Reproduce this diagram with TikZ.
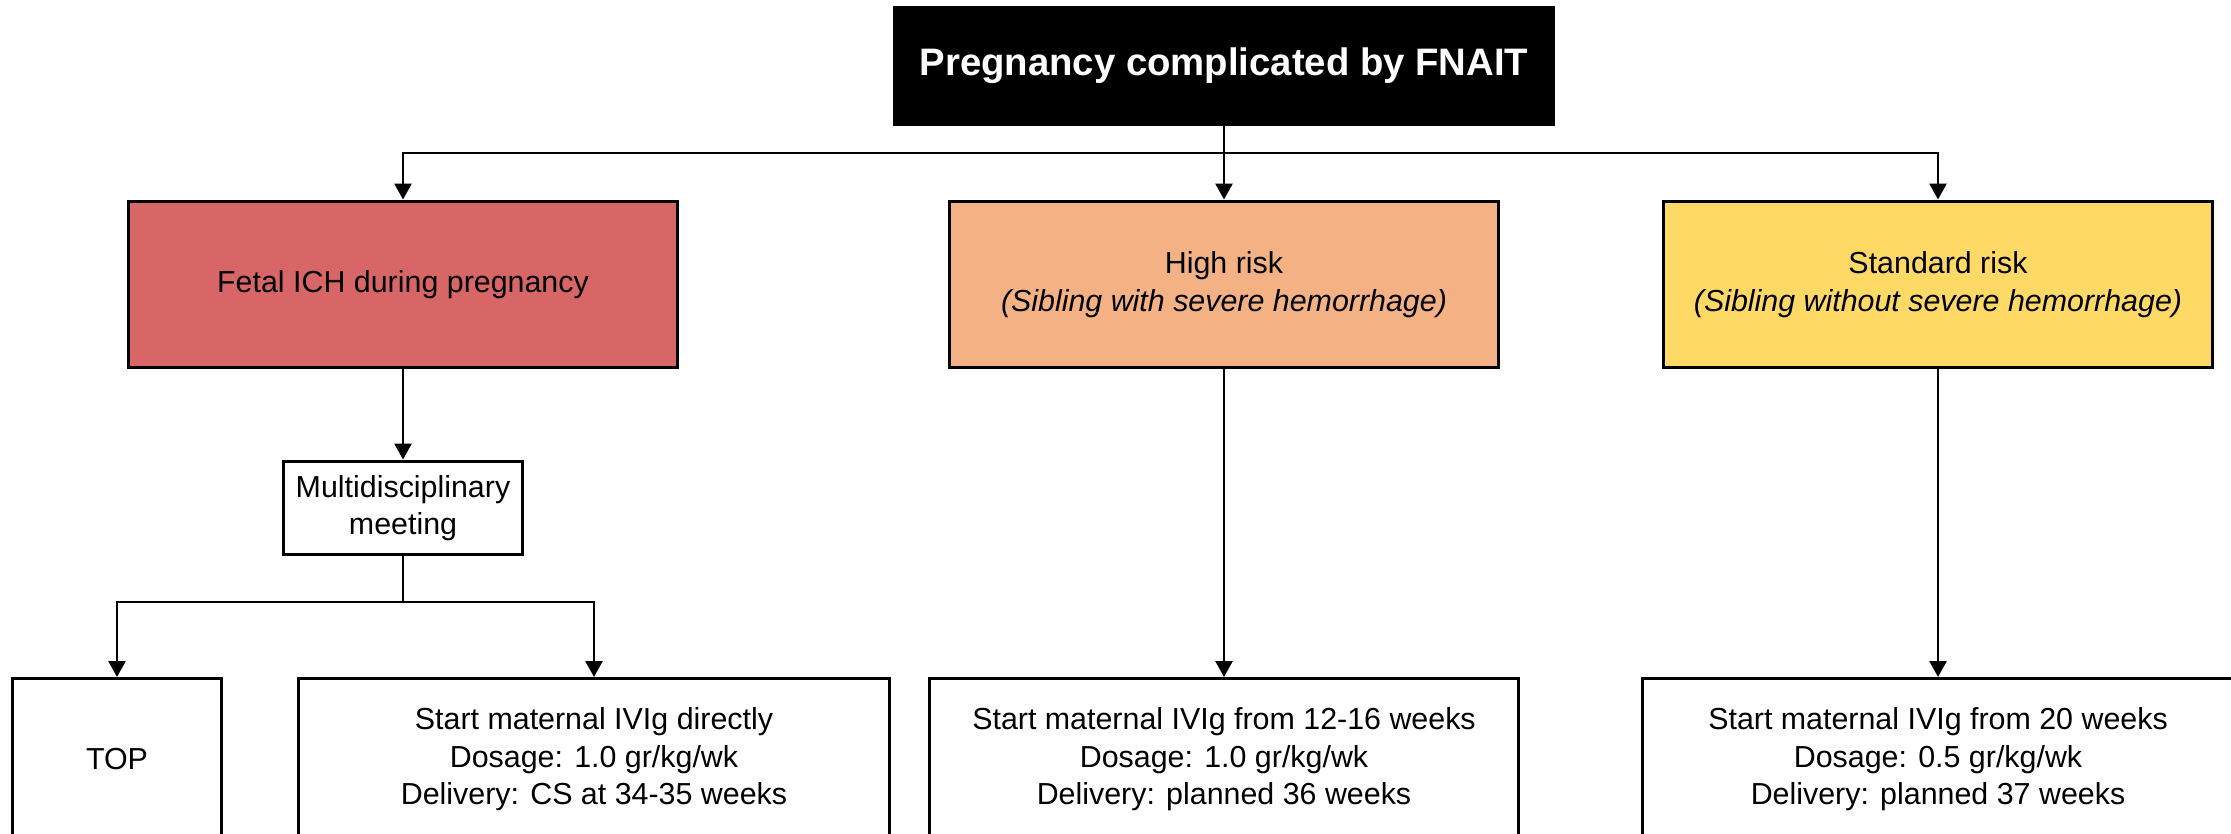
\documentclass[tikz,border=0pt]{standalone}
\usepackage{fontspec}
\setmainfont{Liberation Sans}
\usetikzlibrary{arrows.meta}
\definecolor{ichred}{RGB}{216,102,102}
\definecolor{highorange}{RGB}{244,177,131}
\definecolor{stdyellow}{RGB}{255,217,102}
\begin{document}
\begin{tikzpicture}[x=0.02cm, y=-0.02cm,
    box/.style={draw=black, line width=0.06cm, align=center, inner sep=0pt,
        font=\fontsize{17.3}{21.3}\selectfont},
    riskbox/.style={box, minimum width=11cm, minimum height=3.34cm},
    planbox/.style={box, anchor=north, minimum width=11.84cm, minimum height=3.24cm},
    arr/.style={line width=0.055cm, -{Triangle[length=0.32cm, width=0.34cm]}}]
    \useasboundingbox (0,0) rectangle (2231,834);
    % Radice
    \node[box, fill=black, text=white, font=\fontsize{21.8}{26}\selectfont\bfseries,
        minimum width=13.18cm, minimum height=2.36cm] (preg) at (1224,66)
        {Pregnancy complicated by FNAIT};
    % Gruppi di rischio
    \node[riskbox, fill=ichred] (ich) at (403,284.5) {Fetal ICH during pregnancy};
    \node[riskbox, fill=highorange] (high) at (1224,284.5)
        {High risk\\\textit{(Sibling with severe hemorrhage)}};
    \node[riskbox, fill=stdyellow] (std) at (1938,284.5)
        {Standard risk\\\textit{(Sibling without severe hemorrhage)}};
    \coordinate (split) at (1224,153);
    \draw[arr] (preg) -- (high);
    \draw[arr] (split) -| (ich.north);
    \draw[arr] (split) -| (std.north);
    % Ramo ICH
    \node[box, minimum width=4.78cm, minimum height=1.88cm] (meet) at (403,508)
        {Multidisciplinary\\meeting};
    \draw[arr] (ich) -- (meet);
    \coordinate (fork) at (403,602);
    \node[planbox, minimum width=4.18cm] (top) at (117,677) {TOP};
    \node[planbox] (direct) at (594,677)
        {Start maternal IVIg directly\\Dosage: 1.0 gr/kg/wk\\Delivery: CS at 34-35 weeks};
    \draw[line width=0.055cm] (meet) -- (fork);
    \draw[arr] (fork) -| (top.north);
    \draw[arr] (fork) -| (direct.north);
    % Terapia
    \node[planbox, minimum width=11.8cm] (highplan) at (1224,677)
        {Start maternal IVIg from 12-16 weeks\\Dosage: 1.0 gr/kg/wk\\Delivery: planned 36 weeks};
    \node[planbox] (stdplan) at (1938,677)
        {Start maternal IVIg from 20 weeks\\Dosage: 0.5 gr/kg/wk\\Delivery: planned 37 weeks};
    \draw[arr] (high) -- (highplan);
    \draw[arr] (std) -- (stdplan);
\end{tikzpicture}
\end{document}
